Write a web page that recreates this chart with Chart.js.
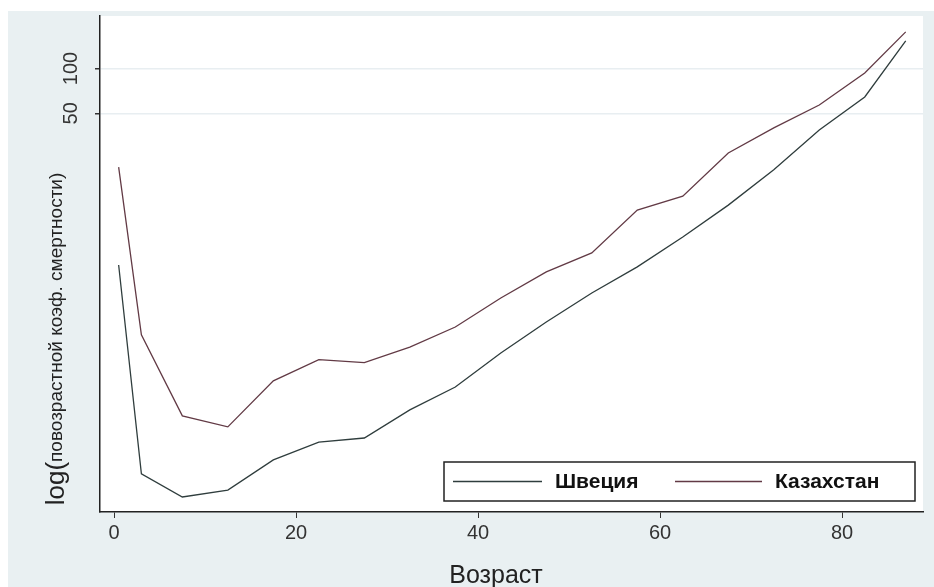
<!DOCTYPE html>
<html>
<head>
<meta charset="utf-8">
<script src="https://cdn.jsdelivr.net/npm/chart.js@4/dist/chart.umd.min.js"></script>
<style>
  html, body { margin: 0; padding: 0; background: #ffffff; }
  #wrap { width: 934px; height: 587px; position: relative; }
</style>
</head>
<body>
<div id="wrap"><canvas id="c" width="934" height="587"></canvas></div>
<script>
// Age group midpoints (years)
const ages = [0.5, 3, 7.5, 12.5, 17.5, 22.5, 27.5, 32.5, 37.5, 42.5, 47.5, 52.5, 57.5, 62.5, 67.5, 72.5, 77.5, 82.5, 87];

// Age-specific mortality rates, per 1000
const sweden = [4.8, 0.19, 0.133, 0.148, 0.236, 0.311, 0.331, 0.511, 0.728, 1.23, 1.99, 3.11, 4.66, 7.4, 12.1, 20.9, 38.7, 64.4, 153];
const kazakhstan = [21.8, 1.63, 0.466, 0.393, 0.80, 1.11, 1.06, 1.35, 1.84, 2.88, 4.31, 5.78, 11.2, 13.9, 27.1, 39.9, 56.9, 93.3, 176];

const seriesNames = ['Швеция', 'Казахстан'];
const xTicks = [0, 20, 40, 60, 80];
const yTicks = [50, 100];

const xTitle = 'Возраст';
const yTitleMain = 'log(';
const yTitleSub = 'повозрастной коэф. смертности)';

const FONT = '"Liberation Sans", Arial, sans-serif';

const toPoints = vals => ages.map((a, i) => ({ x: a, y: vals[i] }));

// Light panel behind the whole graph, white plot region
const backdrop = {
  id: 'backdrop',
  beforeDraw(chart) {
    const { ctx, chartArea: a } = chart;
    ctx.save();
    ctx.fillStyle = '#ffffff';
    ctx.fillRect(0, 0, chart.width, chart.height);
    ctx.fillStyle = '#e9f0f2';
    ctx.fillRect(8, 11, chart.width - 8, chart.height - 11);
    ctx.fillStyle = '#ffffff';
    ctx.fillRect(a.left, a.top, a.right - a.left, a.bottom - a.top);
    ctx.restore();
  }
};

// Rotated y tick labels, axis titles and the in-plot legend
const decorations = {
  id: 'decorations',
  afterDraw(chart) {
    const { ctx } = chart;
    const ys = chart.scales.y;
    ctx.save();
    // y tick labels, rotated
    ctx.fillStyle = '#333333';
    ctx.font = '20px ' + FONT;
    ctx.textAlign = 'center';
    ctx.textBaseline = 'middle';
    yTicks.forEach(v => {
      const py = ys.getPixelForValue(v);
      ctx.save();
      ctx.translate(71, py);
      ctx.rotate(-Math.PI / 2);
      ctx.fillText(String(v), 0, 0);
      ctx.restore();
    });

    // y axis title
    ctx.save();
    ctx.translate(55, 339);
    ctx.rotate(-Math.PI / 2);
    ctx.fillStyle = '#222222';
    ctx.textBaseline = 'alphabetic';
    ctx.font = '26px ' + FONT;
    const w1 = ctx.measureText(yTitleMain).width;
    ctx.font = '19px ' + FONT;
    const w2 = ctx.measureText(yTitleSub).width;
    const start = -(w1 + w2) / 2;
    ctx.textAlign = 'left';
    ctx.font = '26px ' + FONT;
    ctx.fillText(yTitleMain, start, 9);
    ctx.font = '19px ' + FONT;
    ctx.fillText(yTitleSub, start + w1, 7);
    ctx.restore();

    // x axis title
    ctx.fillStyle = '#222222';
    ctx.font = '25px ' + FONT;
    ctx.textAlign = 'center';
    ctx.textBaseline = 'middle';
    ctx.fillText(xTitle, 496, 576);

    // legend
    const lx = 444, ly = 462, lw = 471, lh = 39;
    ctx.fillStyle = '#ffffff';
    ctx.fillRect(lx, ly, lw, lh);
    ctx.strokeStyle = '#222222';
    ctx.lineWidth = 1.5;
    ctx.strokeRect(lx, ly, lw, lh);
    const cy = ly + lh / 2;
    const entries = [
      { x0: 453, x1: 542, tx: 555 },
      { x0: 675, x1: 762, tx: 775 }
    ];
    ctx.font = 'bold 21px ' + FONT;
    ctx.textAlign = 'left';
    entries.forEach((e, i) => {
      const ds = chart.data.datasets[i];
      ctx.strokeStyle = ds.borderColor;
      ctx.lineWidth = 1.4;
      ctx.beginPath();
      ctx.moveTo(e.x0, cy);
      ctx.lineTo(e.x1, cy);
      ctx.stroke();
      ctx.fillStyle = '#111111';
      ctx.fillText(ds.label, e.tx, cy + 1);
    });
    ctx.restore();
  }
};

new Chart(document.getElementById('c'), {
  type: 'line',
  data: {
    datasets: [
      { label: seriesNames[0], data: toPoints(sweden), borderColor: '#2f3d3d', borderWidth: 1.3, pointRadius: 0, tension: 0, fill: false },
      { label: seriesNames[1], data: toPoints(kazakhstan), borderColor: '#623a45', borderWidth: 1.3, pointRadius: 0, tension: 0, fill: false }
    ]
  },
  options: {
    responsive: false,
    animation: false,
    devicePixelRatio: 1,
    layout: { padding: { left: 0, right: 11, top: 16, bottom: 0 } },
    plugins: { legend: { display: false }, tooltip: { enabled: false } },
    scales: {
      x: {
        type: 'linear',
        min: -1.55,
        max: 88.9,
        afterBuildTicks(s) { s.ticks = xTicks.map(v => ({ value: v })); },
        afterFit(s) { s.height = 75; },
        border: { display: true, color: '#222222', width: 1.5 },
        grid: { drawOnChartArea: false, drawTicks: true, tickLength: 6, tickColor: '#333333' },
        ticks: { color: '#333333', font: { family: FONT, size: 20 }, padding: 3, maxRotation: 0 }
      },
      y: {
        type: 'logarithmic',
        min: 0.1055,
        max: 225,
        afterBuildTicks(s) { s.ticks = yTicks.map(v => ({ value: v })); },
        afterFit(s) { s.width = 100; },
        border: { display: true, color: '#222222', width: 1.5 },
        grid: { color: '#e8eef1', lineWidth: 1.5, tickLength: 5, tickColor: '#333333' },
        ticks: { display: false }
      }
    }
  },
  plugins: [backdrop, decorations]
});
</script>
</body>
</html>
